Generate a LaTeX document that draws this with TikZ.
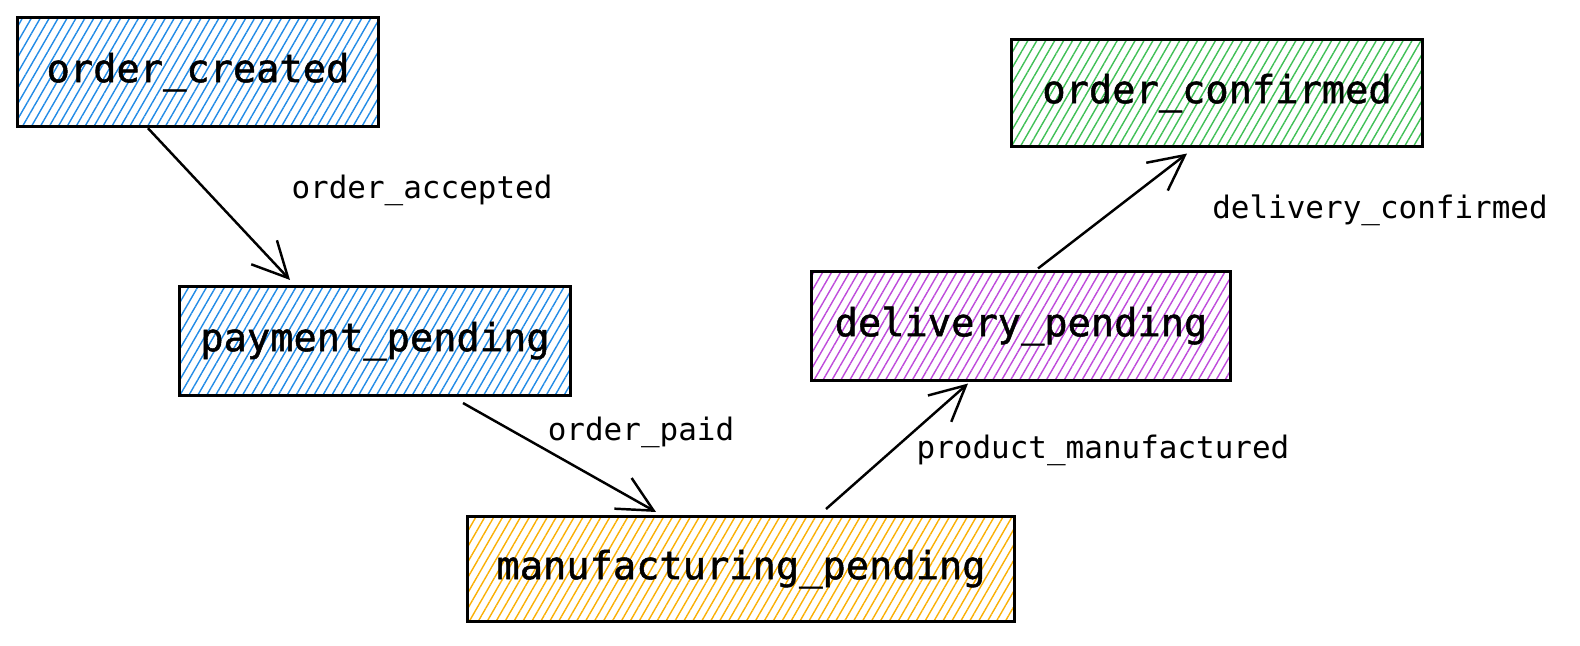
\documentclass[tikz,border=0pt]{standalone}
\usepackage{fontspec}
\setmonofont{DejaVu Sans Mono}
\newfontfamily\statefont[FakeBold=1.3]{DejaVu Sans Mono}
\usetikzlibrary{patterns.meta,arrows.meta,calc}

\definecolor{hblue}{HTML}{228BE6}
\definecolor{hgreen}{HTML}{40C057}
\definecolor{horange}{HTML}{FAB005}
\definecolor{hpurple}{HTML}{BE4BDB}

\begin{document}
\begin{tikzpicture}[x=0.01cm, y=-0.01cm,
	state/.style={draw=black, line width=0.85pt, font=\statefont\fontsize{11}{13}\selectfont,
		pattern={Lines[angle=60, distance=2.2pt, line width=0.4pt]}},
	ev/.style={font=\ttfamily\fontsize{8.8}{11}\selectfont},
	flow/.style={line width=0.7pt, -{Straight Barb[length=10pt, width=10pt]}}]
	\useasboundingbox (0,0) rectangle (1580,645);

	\node [state, pattern color=hblue, minimum width=3.6cm, minimum height=1.09cm] (created) at (198,72) {order\_created};
	\node [state, pattern color=hblue, minimum width=3.91cm, minimum height=1.09cm] (payment) at (375,341) {payment\_pending};
	\node [state, pattern color=horange, minimum width=5.46cm, minimum height=1.05cm] (manuf) at (741,569) {manufacturing\_pending};
	\node [state, pattern color=hpurple, minimum width=4.18cm, minimum height=1.08cm] (delivery) at (1021,326) {delivery\_pending};
	\node [state, pattern color=hgreen, minimum width=4.1cm, minimum height=1.06cm] (confirmed) at (1217,93) {order\_confirmed};

	\draw [flow] ($(created.south)+(-50,1)$) -- ($(payment.north)+(-85,-5)$);
	\draw [flow] ($(payment.south)+(88,6)$) -- ($(manuf.north)+(-85,-3)$);
	\draw [flow] ($(manuf.north)+(85,-6)$) -- ($(delivery.south)+(-53,2)$);
	\draw [flow] ($(delivery.north)+(17,-2)$) -- ($(confirmed.south)+(-30,6)$);

	\node [ev] (accepted) at (422,190) {order\_accepted};
	\node [ev] (paid) at (641,432) {order\_paid};
	\node [ev] (manufactured) at (1103,450) {product\_manufactured};
	\node [ev] (dconfirmed) at (1380,210) {delivery\_confirmed};

\end{tikzpicture}
\end{document}
